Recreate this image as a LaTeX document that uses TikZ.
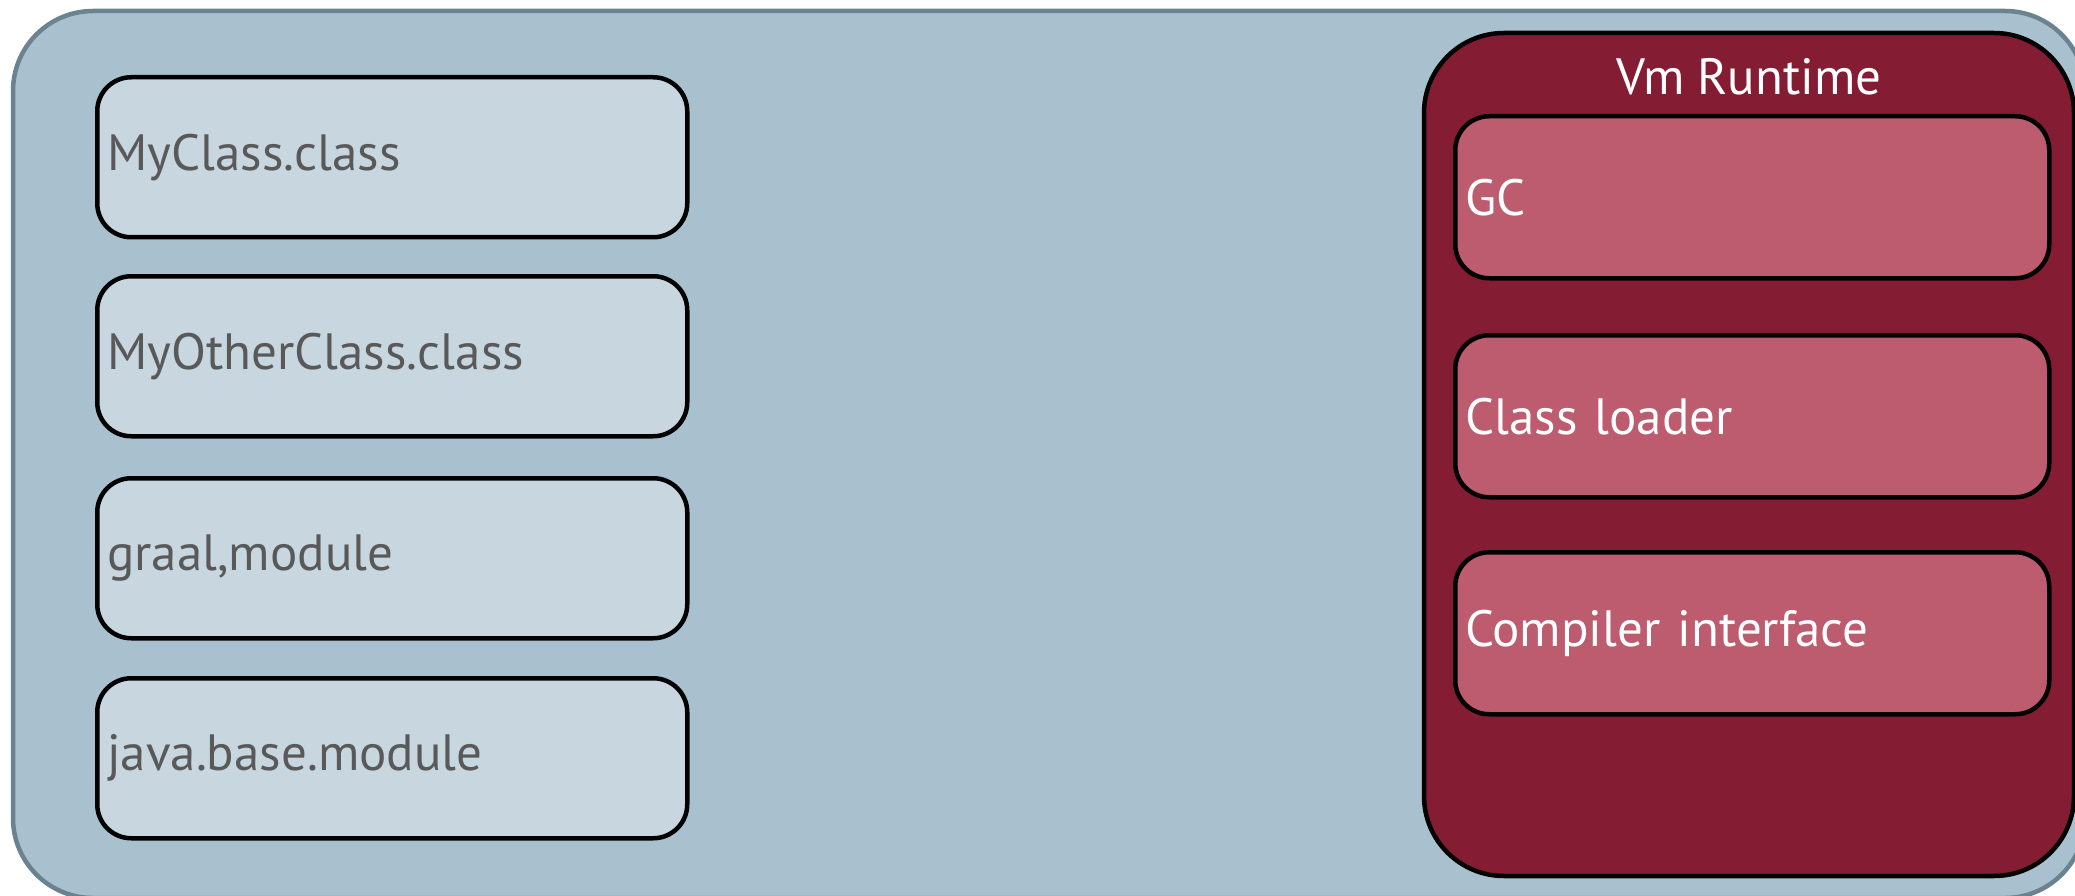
\documentclass[tikz,border=0pt]{standalone}
\usepackage{fontspec}
\setmainfont{PT Sans}
\definecolor{outerfill}{HTML}{A9C1CF}
\definecolor{outerline}{HTML}{6B8291}
\definecolor{lfill}{HTML}{C7D6DF}
\definecolor{ltext}{HTML}{595959}
\definecolor{vmfill}{HTML}{841C33}
\definecolor{infill}{HTML}{BC5C6E}
\tikzset{
  filebox/.style={draw=black, line width=4.5pt, fill=lfill, rounded corners=34pt,
    anchor=north west, minimum width=590pt, minimum height=160pt,
    text width=570pt, inner xsep=10pt, align=left, text=ltext,
    font=\fontsize{51}{58}\selectfont},
  compbox/.style={draw=black, line width=4.5pt, fill=infill, rounded corners=34pt,
    anchor=north west, minimum width=594pt, minimum height=162pt,
    text width=574pt, inner xsep=10pt, align=left, text=white,
    font=\fontsize{51}{58}\selectfont},
}
\begin{document}
\begin{tikzpicture}[x=1pt,y=-1pt]
\useasboundingbox (0,0) rectangle (2075,896);
\begin{scope}
\clip (0,0) rectangle (2075,896);
\draw[draw=outerline, line width=4.5pt, fill=outerfill, rounded corners=80pt] (13,11) rectangle (2085,898);
\end{scope}
\node[filebox] (c1) at (95,75) {MyClass.class};
\node[filebox] (c2) at (95,274) {MyOtherClass.class};
\node[filebox] (c3) at (95,476) {graal,module};
\node[filebox] (c4) at (95,676) {java.base.module};
\draw[draw=black, line width=4.5pt, fill=vmfill, rounded corners=80pt] (1424,33) rectangle (2074,876);
\node[text=white, font=\fontsize{51}{58}\selectfont] (vmt) at (1749,77) {Vm Runtime};
\node[compbox] (gc) at (1453,114) {GC};
\node[compbox] (cl) at (1453,333) {Class loader};
\node[compbox] (ci) at (1453,550) {Compiler interface};
\end{tikzpicture}
\end{document}
